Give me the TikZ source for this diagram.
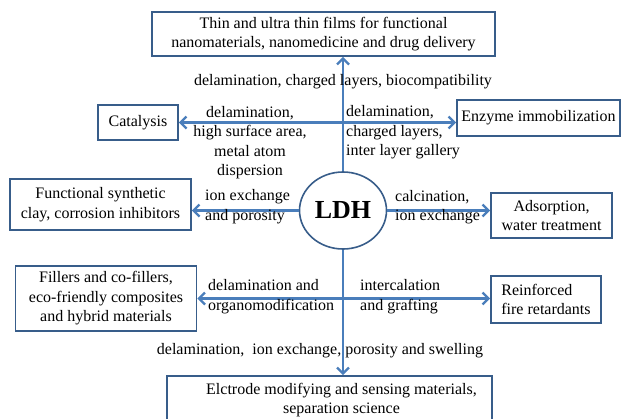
\documentclass[tikz,border=0pt]{standalone}
\usepackage{fontspec}
\setmainfont{Liberation Serif}
\usetikzlibrary{shapes.geometric,arrows.meta}
\definecolor{boxblue}{RGB}{56,93,138}
\definecolor{arrblue}{RGB}{74,126,187}
\def\fs{\fontsize{16}{19.5}\selectfont}

\begin{document}
\begin{tikzpicture}[x=1pt,y=-1pt,
  box/.style={draw=boxblue,line width=1.6pt,align=center,inner sep=0pt,font=\fs},
  lbl/.style={inner sep=0pt,font=\fs},
  arr/.style={draw=arrblue,line width=2.4pt,-{Straight Barb[length=6pt,width=12pt]}},
  darr/.style={arr,{Straight Barb[length=6pt,width=12pt]}-{Straight Barb[length=6pt,width=12pt]}}]
\useasboundingbox (0,0) rectangle (621,418);
% centre
\node [ellipse,draw=boxblue,line width=1.6pt,minimum width=87,minimum height=77,
       inner sep=0pt,font=\fontsize{26}{30}\selectfont\bfseries] (ldh) at (343,210.5) {LDH};
% boxes
\node [box,minimum width=343,minimum height=44] (films) at (323.5,34)
  {Thin and ultra thin films for functional\\nanomaterials, nanomedicine and drug delivery};
\node [box,minimum width=80,minimum height=35] (cat) at (138,122.5) {Catalysis};
\node [box,minimum width=163,minimum height=36] (enz) at (538.5,118) {Enzyme immobilization};
\node [box,minimum width=181,minimum height=51] (clay) at (100.5,204.5)
  {Functional synthetic\\clay, corrosion inhibitors};
\node [box,minimum width=121,minimum height=45] (ads) at (551.5,215.5)
  {Adsorption,\\water treatment};
\node [box,minimum width=181,minimum height=65] (fill) at (106,298.5)
  {Fillers and co-fillers,\\eco-friendly composites\\and hybrid materials};
\node [box,align=left,minimum width=110,minimum height=47] (fire) at (546,299.5)
  {Reinforced\\fire retardants};
\node [box,minimum width=325,minimum height=48] (elec) at (329.5,400)
  {\hspace*{24pt}Elctrode modifying and sensing materials,\\\hspace*{24pt}separation science};
% connectors
\draw [arr] (ldh.north) -- (ldh.north |- films.south);
\draw [darr] (cat.east) -- (cat.east -| enz.west);
\draw [arr] (ldh.west) -- (ldh.west -| clay.east);
\draw [arr] (ldh.east) -- (ldh.east -| ads.west);
\draw [arr] (ldh.south) -- (ldh.south |- elec.north);
\draw [darr] (fill.east) -- (fill.east -| fire.west);
% labels
\node [lbl] (lfilms) at (343,82) {delamination, charged layers, biocompatibility};
\node [lbl,align=center] (lcat) at (250,142.5)
  {delamination,\\high surface area,\\metal atom\\dispersion};
\node [lbl,align=left,anchor=west] (lenz) at (346,132.5)
  {delamination,\\charged layers,\\inter layer gallery};
\node [lbl,align=left,anchor=west] (lclay) at (205,206.5) {ion exchange\\and porosity};
\node [lbl,align=left,anchor=west] (lads) at (395,207) {calcination,\\ion exchange};
\node [lbl,align=left,anchor=west] (lfill) at (208,296.5)
  {delamination and\\organomodification};
\node [lbl,align=left,anchor=west] (lfire) at (360,296.5) {intercalation\\and grafting};
\node [lbl] (lelec) at (320,351) {delamination,\ \ ion exchange, porosity and swelling};
\end{tikzpicture}
\end{document}
